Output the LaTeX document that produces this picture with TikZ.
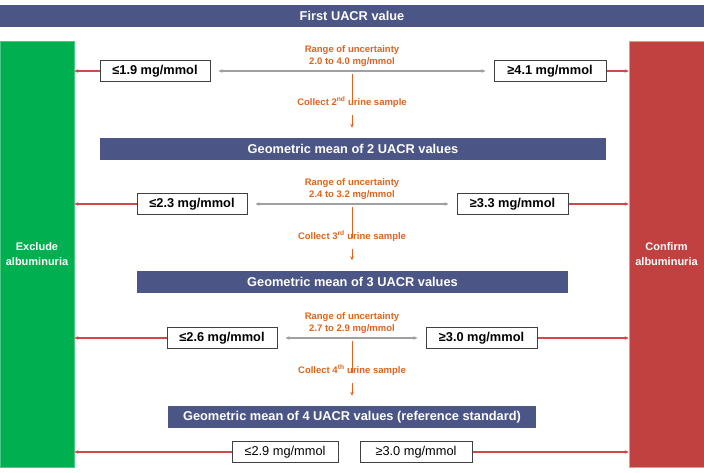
\documentclass[tikz,border=0pt]{standalone}
\usepackage{fontspec}
\setmainfont{Liberation Sans}
\usetikzlibrary{arrows.meta}
\definecolor{navy}{HTML}{4B5586}
\definecolor{exgreen}{HTML}{00B050}
\definecolor{cfred}{HTML}{C04140}
\definecolor{cfedge}{HTML}{D9A27A}
\definecolor{arrred}{HTML}{D04848}
\definecolor{orng}{HTML}{D9661F}
\definecolor{graya}{HTML}{A0A0A0}
\definecolor{boxedge}{HTML}{404040}
\begin{document}
\begin{tikzpicture}[x=1pt,y=-1pt,
  barbox/.style={fill=navy, text=white, font=\bfseries\fontsize{12.8}{14}\selectfont, inner sep=0pt, minimum height=22pt},
  sidebar/.style={inner sep=0pt, text=white, align=center, font=\bfseries\fontsize{11}{15}\selectfont, minimum width=75pt, minimum height=426pt},
  valbox/.style={draw=boxedge, line width=1pt, fill=white, inner sep=0pt, minimum height=21pt, font=\bfseries\fontsize{12.8}{14}\selectfont},
  valboxlast/.style={valbox, font=\fontsize{12.8}{14}\selectfont},
  rangetxt/.style={text=orng, align=center, font=\bfseries\fontsize{9.5}{12}\selectfont, inner sep=0pt},
  collecttxt/.style={text=orng, font=\bfseries\fontsize{9.5}{11}\selectfont, inner sep=0pt},
  redarr/.style={draw=arrred, line width=1.3pt, -{Stealth[length=4pt,width=3.5pt]}},
  grayarr/.style={draw=graya, line width=1.1pt, {Stealth[length=4pt,width=3.5pt]}-{Stealth[length=4pt,width=3.5pt]}, shorten <=8pt, shorten >=8pt},
  orline/.style={draw=orng, line width=1pt},
  orarr/.style={draw=orng, line width=1pt, -{Stealth[length=4pt,width=3.5pt]}, shorten <=7pt, shorten >=10pt}
]
\useasboundingbox (0,0) rectangle (704,472);
\fill[white] (0,0) rectangle (704,472);

% top bar
\node[barbox, minimum width=704pt] (bar1) at (352,15.5) {First UACR value};

% side bars
\node[sidebar, fill=exgreen, draw=exgreen!70!white, line width=0.6pt, minimum width=74pt] (excl) at (37,254) {Exclude\\albuminuria};
\node[sidebar, fill=cfred, draw=cfedge, line width=0.6pt] (conf) at (666.5,254) {Confirm\\albuminuria};

% ---- row 1
\node[rangetxt] (range1) at (352,56) {Range of uncertainty\\2.0 to 4.0 mg/mmol};
\node[valbox, minimum width=110pt] (lo1) at (155,71) {≤1.9 mg/mmol};
\node[valbox, minimum width=112pt] (hi1) at (550,71) {≥4.1 mg/mmol};
\draw[grayarr] (lo1) -- (hi1);
\draw[redarr] (lo1.west) -- (excl.east |- lo1.west);
\draw[redarr] (hi1.east) -- (conf.west |- hi1.east);
\coordinate (top1) at (352,74);
\node[collecttxt] (col2) at (352,102) {Collect 2\textsuperscript{nd} urine sample};
\node[barbox, minimum width=506pt] (bar2) at (353,149) {Geometric mean of 2 UACR values};
\draw[orline] (top1) -- ([yshift=-8pt]col2.north);
\draw[orarr] (col2.south) -- (bar2.north -| col2.south);

% ---- row 2
\node[rangetxt] (range2) at (352,189) {Range of uncertainty\\2.4 to 3.2 mg/mmol};
\node[valbox, minimum width=110pt] (lo2) at (192,204) {≤2.3 mg/mmol};
\node[valbox, minimum width=111pt] (hi2) at (512.5,204) {≥3.3 mg/mmol};
\draw[grayarr] (lo2) -- (hi2);
\draw[redarr] (lo2.west) -- (excl.east |- lo2.west);
\draw[redarr] (hi2.east) -- (conf.west |- hi2.east);
\coordinate (top2) at (352,207);
\node[collecttxt] (col3) at (352,236) {Collect 3\textsuperscript{rd} urine sample};
\node[barbox, minimum width=431pt] (bar3) at (352.5,281.5) {Geometric mean of 3 UACR values};
\draw[orline] (top2) -- ([yshift=-8pt]col3.north);
\draw[orarr] (col3.south) -- (bar3.north -| col3.south);

% ---- row 3
\node[rangetxt] (range3) at (352,323) {Range of uncertainty\\2.7 to 2.9 mg/mmol};
\node[valbox, minimum width=110pt] (lo3) at (222,338) {≤2.6 mg/mmol};
\node[valbox, minimum width=111pt] (hi3) at (481.5,338) {≥3.0 mg/mmol};
\draw[grayarr] (lo3) -- (hi3);
\draw[redarr] (lo3.west) -- (excl.east |- lo3.west);
\draw[redarr] (hi3.east) -- (conf.west |- hi3.east);
\coordinate (top3) at (352,341);
\node[collecttxt] (col4) at (352,370) {Collect 4\textsuperscript{th} urine sample};
\node[barbox, minimum width=368pt] (bar4) at (352,417) {Geometric mean of 4 UACR values (reference standard)};
\draw[orline] (top3) -- ([yshift=-8pt]col4.north);
\draw[orarr] (col4.south) -- (bar4.north -| col4.south);

% ---- row 4
\node[valboxlast, minimum width=106pt] (lo4) at (285,452) {≤2.9 mg/mmol};
\node[valboxlast, minimum width=112pt] (hi4) at (416,452) {≥3.0 mg/mmol};
\draw[redarr] (lo4.west) -- (excl.east |- lo4.west);
\draw[redarr] (hi4.east) -- (conf.west |- hi4.east);
\end{tikzpicture}
\end{document}
